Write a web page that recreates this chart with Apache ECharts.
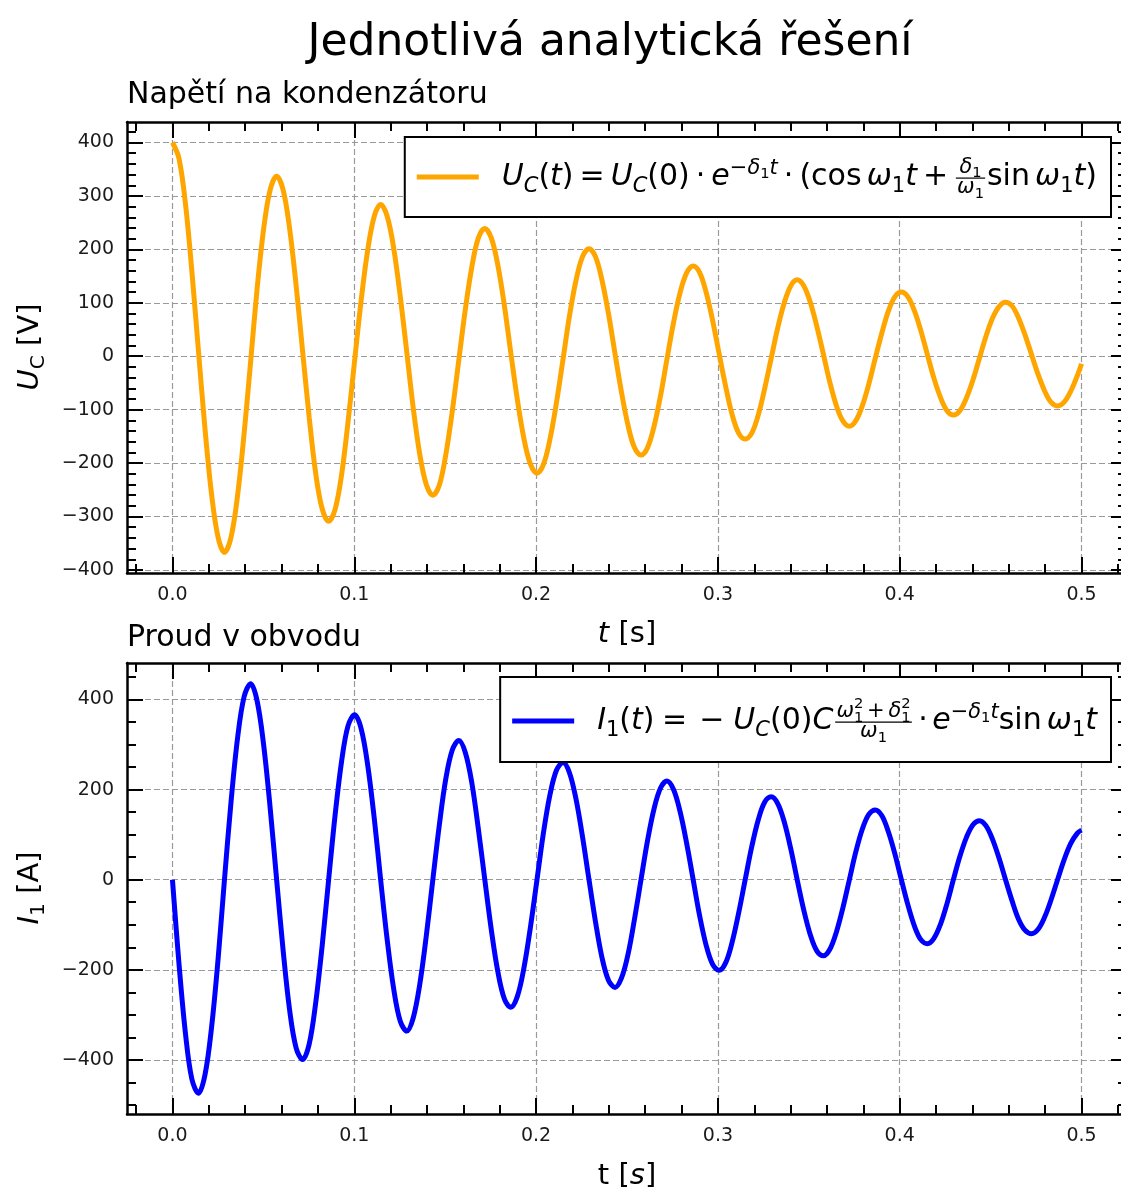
<!DOCTYPE html>
<html><head><meta charset="utf-8">
<script src="https://cdn.jsdelivr.net/npm/echarts@6/dist/echarts.min.js"></script>
<style>html,body{margin:0;padding:0;background:#fff}#c{width:1121px;height:1190px}</style>
</head><body><div id="c"></div>
<script>
// ---------------- data ----------------
const tValues = [
  0, 0.0036, 0.0072, 0.0107, 0.0143, 0.0179, 0.0215, 0.0251, 0.0286, 0.0322,
  0.0358, 0.0394, 0.0430, 0.0465, 0.0501, 0.0537, 0.0573, 0.0609, 0.0644, 0.0680,
  0.0716, 0.0752, 0.0787, 0.0823, 0.0859, 0.0895, 0.0931, 0.0966, 0.1002, 0.1038,
  0.1074, 0.1110, 0.1145, 0.1181, 0.1217, 0.1253, 0.1289, 0.1324, 0.1360, 0.1396,
  0.1432, 0.1468, 0.1503, 0.1539, 0.1575, 0.1611, 0.1647, 0.1682, 0.1718, 0.1754,
  0.1790, 0.1826, 0.1861, 0.1897, 0.1933, 0.1969, 0.2005, 0.2040, 0.2076, 0.2112,
  0.2148, 0.2183, 0.2219, 0.2255, 0.2291, 0.2327, 0.2362, 0.2398, 0.2434, 0.2470,
  0.2506, 0.2541, 0.2577, 0.2613, 0.2649, 0.2685, 0.2720, 0.2756, 0.2792, 0.2828,
  0.2864, 0.2899, 0.2935, 0.2971, 0.3007, 0.3043, 0.3078, 0.3114, 0.3150, 0.3186,
  0.3222, 0.3257, 0.3293, 0.3329, 0.3365, 0.3401, 0.3436, 0.3472, 0.3508, 0.3544,
  0.3580, 0.3615, 0.3651, 0.3687, 0.3723, 0.3758, 0.3794, 0.3830, 0.3866, 0.3902,
  0.3937, 0.3973, 0.4009, 0.4045, 0.4081, 0.4116, 0.4152, 0.4188, 0.4224, 0.4260,
  0.4295, 0.4331, 0.4367, 0.4403, 0.4439, 0.4474, 0.4510, 0.4546, 0.4582, 0.4618,
  0.4653, 0.4689, 0.4725, 0.4761, 0.4797, 0.4832, 0.4868, 0.4904, 0.4940, 0.4976,
  0.5];
const ucValues = [
  400, 370, 284, 158, 10, -136, -258, -339, -367, -339,
  -261, -145, -10, 124, 237, 311, 337, 311, 240, 133,
  9, -114, -217, -285, -309, -286, -220, -122, -8, 105,
  199, 262, 284, 262, 202, 112, 7, -96, -183, -240,
  -260, -241, -185, -103, -7, 88, 168, 221, 239, 221,
  170, 94, 6, -81, -154, -202, -219, -203, -156, -87,
  -6, 74, 141, 186, 201, 186, 143, 80, 5, -68,
  -130, -171, -185, -171, -131, -73, -5, 63, 119, 156,
  169, 157, 120, 67, 4, -57, -109, -144, -155, -144,
  -110, -61, -4, 53, 100, 132, 143, 132, 101, 56,
  4, -48, -92, -121, -131, -121, -93, -52, -3, 44,
  84, 111, 120, 111, 85, 48, 3, -41, -77, -102,
  -110, -102, -78, -44, -3, 37, 71, 93, 101, 94,
  72, 40, 3, -34, -65, -86, -93, -86, -66, -37,
  -14];
const i1Values = [
  0, -187, -343, -443, -474, -433, -328, -176, 0, 172,
  314, 406, 435, 398, 301, 161, 0, -158, -288, -373,
  -399, -365, -276, -148, 0, 145, 265, 342, 366, 335,
  254, 136, 0, -133, -243, -314, -336, -307, -233, -125,
  0, 122, 223, 288, 309, 282, 214, 114, 0, -112,
  -205, -265, -283, -259, -196, -105, 0, 103, 188, 243,
  260, 238, 180, 96, 0, -94, -172, -223, -239, -218,
  -165, -88, 0, 87, 158, 204, 219, 200, 151, 81,
  0, -79, -145, -188, -201, -184, -139, -74, 0, 73,
  133, 172, 184, 169, 128, 68, 0, -67, -122, -158,
  -169, -155, -117, -63, 0, 61, 112, 145, 155, 142,
  107, 58, 0, -56, -103, -133, -142, -130, -99, -53,
  0, 52, 94, 122, 131, 120, 90, 48, 0, -47,
  -87, -112, -120, -110, -83, -45, 0, 44, 80, 103,
  110];
const xTickLabels = [0, 0.1, 0.2, 0.3, 0.4, 0.5];
const ucTickLabels = [-400, -300, -200, -100, 0, 100, 200, 300, 400];
const i1TickLabels = [-400, -200, 0, 200, 400];
const mainTitle = 'Jednotlivá analytická řešení';
const topTitle = 'Napětí na kondenzátoru';
const bottomTitle = 'Proud v obvodu';

// ---------------- styling / layout ----------------
const X0 = -0.025, X1 = 0.525;
const U0 = -405.7, U1 = 438.4;
const I0 = -520, I1 = 481;
const FF = 'DejaVu Sans';

function minorVals(min, max, step) {
  const a = [];
  for (let k = Math.ceil(min / step - 1e-9); k * step <= max + 1e-9; k++) a.push(+(k * step).toFixed(6));
  return a;
}
const xMinor = minorVals(X0, X1, 0.02);
const uMinor = minorVals(U0, U1, 20);
const iMinor = minorVals(I0, I1, 50);

const minus = v => (v < 0 ? '\u2212' + Math.abs(v) : String(v));
const tickStyle = { color: '#000', width: 2 };
function mkAxis(grid, pos, min, max, vals, len, showLine, extra) {
  return Object.assign({
    type: 'value', gridIndex: grid, position: pos, min: min, max: max,
    axisLine: { show: showLine, onZero: false, lineStyle: { color: '#000', width: 2.5 } },
    axisTick: { show: true, inside: true, length: len, lineStyle: tickStyle, customValues: vals },
    axisLabel: { show: false },
    splitLine: { show: false },
    minorTick: { show: false }, minorSplitLine: { show: false },
    axisPointer: { show: false }
  }, extra || {});
}
const gridLine = { show: true, lineStyle: { color: '#9a9a9a', width: 1.2, type: [6, 3] } };
function labelCfg(vals, fmt) {
  return { show: true, customValues: vals, formatter: fmt, fontSize: 19, fontFamily: FF, color: '#1a1a1a', margin: 13 };
}
function axesFor(grid, xMaj, xMin, yMaj, yMin, ymin, ymax, yInt) {
  const xs = [
    mkAxis(grid, 'bottom', X0, X1, xMaj, 16, true, { axisLabel: labelCfg(xMaj, v => v.toFixed(1)), splitLine: gridLine, minInterval: 0.1, maxInterval: 0.1 }),
    mkAxis(grid, 'bottom', X0, X1, xMin, 9, false),
    mkAxis(grid, 'top', X0, X1, xMaj, 16, true),
    mkAxis(grid, 'top', X0, X1, xMin, 9, false)
  ];
  const ys = [
    mkAxis(grid, 'left', ymin, ymax, yMaj, 16, true, { axisLabel: labelCfg(yMaj, minus), splitLine: gridLine, minInterval: yInt, maxInterval: yInt }),
    mkAxis(grid, 'left', ymin, ymax, yMin, 9, false),
    mkAxis(grid, 'right', ymin, ymax, yMaj, 16, true),
    mkAxis(grid, 'right', ymin, ymax, yMin, 9, false)
  ];
  return { xs, ys };
}
const a0 = axesFor(0, xTickLabels, xMinor, ucTickLabels, uMinor, U0, U1, 100);
const a1 = axesFor(1, xTickLabels, xMinor, i1TickLabels, iMinor, I0, I1, 200);

// ---------------- math-text layout (graphic) ----------------
const ctx2d = document.createElement('canvas').getContext('2d');
function measure(t, S, it) { ctx2d.font = (it ? 'italic ' : '') + S + 'px "' + FF + '"'; return ctx2d.measureText(t).width; }
function txt(t, x, base, S, it, align) {
  return { type: 'text', x: x, y: base - 0.346 * S, z: 100,
    style: { text: t, fontSize: S, fontFamily: FF, fontStyle: it ? 'italic' : 'normal', fill: '#000',
      textAlign: align || 'left', textVerticalAlign: 'middle', align: align || 'left', verticalAlign: 'middle' } };
}
function lay(tokens, x, base, S, out) {
  for (const k of tokens) {
    if (k.sp != null) x += k.sp * S;
    else if (k.t != null) {
      if (out) out.push(txt(k.t, x, base, S, k.i));
      x += measure(k.t, S, k.i);
    } else if (k.sub) x = lay(k.sub, x, base + 0.2 * S, 0.7 * S, out);
    else if (k.sup) x = lay(k.sup, x, base - 0.42 * S, 0.7 * S, out);
    else if (k.subsup) {
      const a = lay(k.subsup[0], x, base + 0.22 * S, 0.7 * S, out);
      const b = lay(k.subsup[1], x, base - 0.42 * S, 0.7 * S, out);
      x = Math.max(a, b);
    } else if (k.frac) {
      const s = 0.7 * S;
      const wn = lay(k.frac[0], 0, 0, s, null), wd = lay(k.frac[1], 0, 0, s, null);
      const W = Math.max(wn, wd) + 0.08 * S;
      const bar = base - 0.33 * S;
      x += 0.06 * S;
      lay(k.frac[0], x + (W - wn) / 2, bar - 0.12 * S, s, out);
      lay(k.frac[1], x + (W - wd) / 2, bar + 0.55 * S, s, out);
      if (out) out.push({ type: 'line', z: 100, shape: { x1: x, y1: bar, x2: x + W, y2: bar }, style: { stroke: '#000', lineWidth: 1.2 } });
      x += W + 0.06 * S;
    }
  }
  return x;
}
const sub1 = { sub: [{ t: '1' }] };
const fTop = [
  { t: 'U', i: 1 }, { sub: [{ t: 'C', i: 1 }] }, { t: '(' }, { t: 't', i: 1 }, { t: ')' },
  { sp: 0.2 }, { t: '=' }, { sp: 0.2 },
  { t: 'U', i: 1 }, { sub: [{ t: 'C', i: 1 }] }, { t: '(0)' },
  { sp: 0.2 }, { t: '·' }, { sp: 0.2 },
  { t: 'e', i: 1 }, { sup: [{ t: '\u2212' }, { t: 'δ', i: 1 }, sub1, { t: 't', i: 1 }] },
  { sp: 0.2 }, { t: '·' }, { sp: 0.2 },
  { t: '(cos' }, { sp: 0.17 }, { t: 'ω', i: 1 }, sub1, { t: 't', i: 1 },
  { sp: 0.2 }, { t: '+' }, { sp: 0.2 },
  { frac: [[{ t: 'δ', i: 1 }, sub1], [{ t: 'ω', i: 1 }, sub1]] },
  { t: 'sin' }, { sp: 0.17 }, { t: 'ω', i: 1 }, sub1, { t: 't', i: 1 }, { t: ')' }
];
const fBot = [
  { t: 'I', i: 1 }, sub1, { t: '(' }, { t: 't', i: 1 }, { t: ')' },
  { sp: 0.25 }, { t: '=' }, { sp: 0.4 }, { t: '\u2212' }, { sp: 0.3 },
  { t: 'U', i: 1 }, { sub: [{ t: 'C', i: 1 }] }, { t: '(0)' }, { t: 'C', i: 1 },
  { frac: [[{ t: 'ω', i: 1 }, { subsup: [[{ t: '1' }], [{ t: '2' }]] }, { sp: 0.18 }, { t: '+' }, { sp: 0.18 },
            { t: 'δ', i: 1 }, { subsup: [[{ t: '1' }], [{ t: '2' }]] }],
           [{ t: 'ω', i: 1 }, sub1]] },
  { sp: 0.15 }, { t: '·' }, { sp: 0.15 },
  { t: 'e', i: 1 }, { sup: [{ t: '\u2212' }, { t: 'δ', i: 1 }, sub1, { t: 't', i: 1 }] },
  { t: 'sin' }, { sp: 0.17 }, { t: 'ω', i: 1 }, sub1, { t: 't', i: 1 }
];
function legendBox(tokens, S, color, textRight, boxTop, boxBottom, lineY, base) {
  const W = lay(tokens, 0, 0, S, null);
  const tx = textRight - W;
  const lineEnd = tx - 23, lineStart = lineEnd - 62, boxLeft = lineStart - 12;
  const els = [{ type: 'rect', z: 90, shape: { x: boxLeft, y: boxTop, width: textRight + 14 - boxLeft, height: boxBottom - boxTop },
    style: { fill: '#fff', stroke: '#000', lineWidth: 2 } },
    { type: 'line', z: 100, shape: { x1: lineStart, y1: lineY, x2: lineEnd, y2: lineY }, style: { stroke: color, lineWidth: 5 } }];
  lay(tokens, tx, base, S, els);
  return els;
}
function hLabel(tokens, S, cx, base) {
  const W = lay(tokens, 0, 0, S, null);
  const out = [];
  lay(tokens, cx - W / 2, base, S, out);
  return out;
}
function vLabel(tokens, S, cx, cy) {
  const W = lay(tokens, 0, 0, S, null);
  const out = [];
  lay(tokens, -W / 2, 0, S, out);
  return { type: 'group', x: cx + 0.36 * S, y: cy, rotation: Math.PI / 2, children: out };
}
const LS = 30;
const graphics = [].concat(
  [txt(mainTitle, 610, 59, 44, false, 'center'),
   txt(topTitle, 127, 106, 30, false),
   txt(bottomTitle, 127, 649, 30, false)],
  legendBox(fTop, LS, '#FFA500', 1097, 137, 217, 177, 188),
  legendBox(fBot, LS, '#0000FF', 1097, 677, 762, 721, 732),
  hLabel([{ t: 't', i: 1 }, { sp: 0.32 }, { t: '[s]' }], 29, 627, 645),
  hLabel([{ t: 't' }, { sp: 0.32 }, { t: '[' }, { t: 's', i: 1 }, { t: ']' }], 29, 627, 1187),
  [vLabel([{ t: 'U', i: 1 }, { sub: [{ t: 'C' }] }, { sp: 0.32 }, { t: '[V]' }], 29, 30, 347),
   vLabel([{ t: 'I', i: 1 }, sub1, { sp: 0.32 }, { t: '[A]' }], 29, 30, 888)]
);

const chart = echarts.init(document.getElementById('c'), null, { renderer: 'canvas' });
chart.setOption({
  animation: false,
  backgroundColor: '#fff',
  grid: [
    { left: 127, top: 122, width: 1000, height: 451, containLabel: false, outerBoundsMode: 'none' },
    { left: 127, top: 663, width: 1000, height: 451, containLabel: false, outerBoundsMode: 'none' }
  ],
  xAxis: a0.xs.concat(a1.xs),
  yAxis: a0.ys.concat(a1.ys),
  series: [
    { type: 'line', name: 'Uc', xAxisIndex: 0, yAxisIndex: 0, showSymbol: false, smooth: 0.35, clip: true,
      data: tValues.map((t, k) => [t, ucValues[k]]), lineStyle: { color: '#FFA500', width: 5 }, z: 5 },
    { type: 'line', name: 'I1', xAxisIndex: 4, yAxisIndex: 4, showSymbol: false, smooth: 0.35, clip: true,
      data: tValues.map((t, k) => [t, i1Values[k]]), lineStyle: { color: '#0000FF', width: 5 }, z: 5 }
  ],
  graphic: { elements: graphics }
});
</script></body></html>
